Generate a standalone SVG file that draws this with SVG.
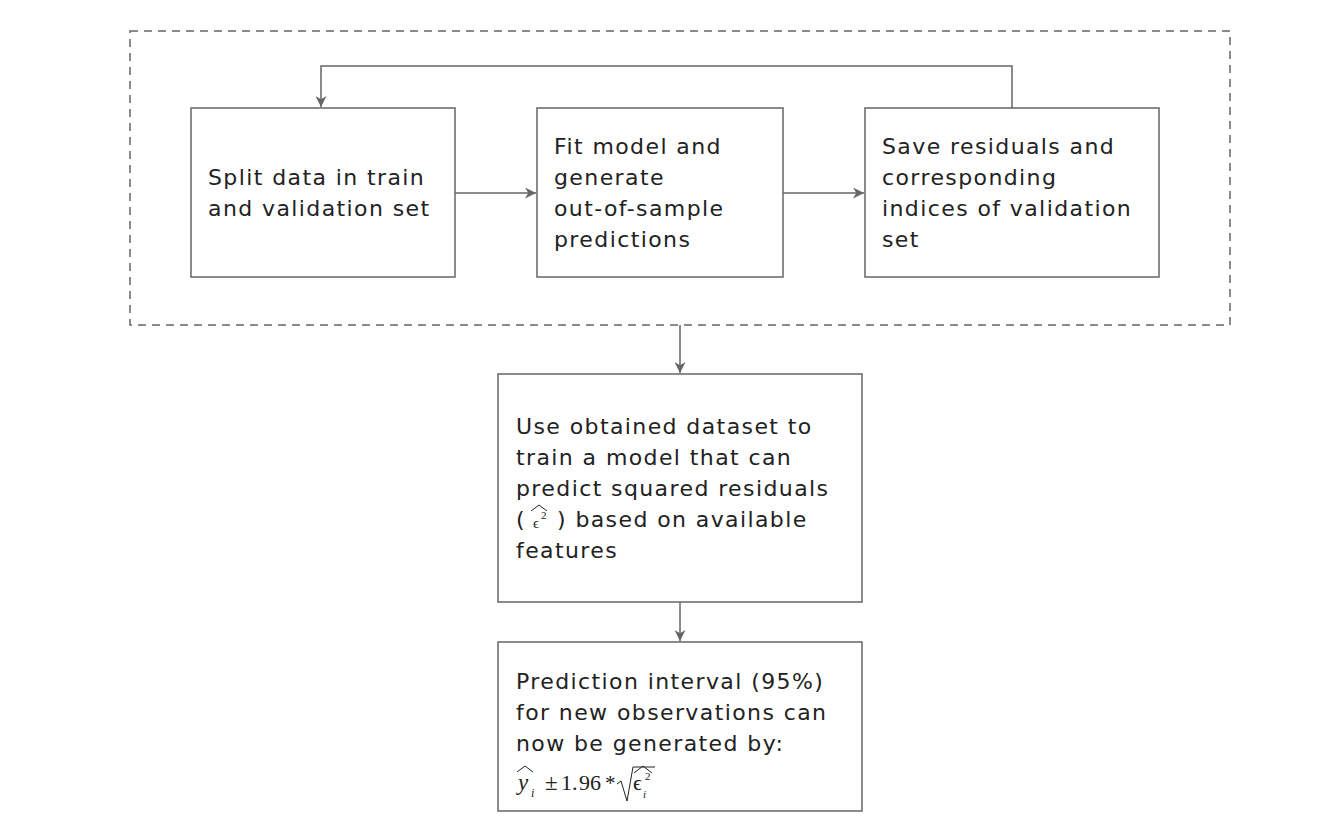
<svg xmlns="http://www.w3.org/2000/svg" width="1344" height="830" viewBox="0 0 1344 830">
<defs>
<style>
.box{fill:#fff;stroke:#666;stroke-width:1.5}
.t{font-family:"DejaVu Sans","Open Sans",sans-serif;font-size:22px;letter-spacing:1.4px;fill:#222}
.m{font-family:"Liberation Serif","DejaVu Serif",serif;fill:#222}
.c{fill:none;stroke:#666;stroke-width:1.5}
.hat{fill:none;stroke:#222;stroke-width:1}
</style>
<marker id="ah" viewBox="0 0 10 10" refX="10" refY="5" markerWidth="11" markerHeight="11" markerUnits="userSpaceOnUse" orient="auto">
<path d="M0,0 L10,5 L0,10 L3,5 Z" fill="#666"/>
</marker>
</defs>
<rect width="1344" height="830" fill="#fff"/>
<g id="group-frame">
<rect x="130" y="31" width="1100" height="294" fill="none" stroke="#666" stroke-width="1.5" stroke-dasharray="8,6"/>
</g>
<g id="connectors">
<line class="c" x1="455" y1="193" x2="536" y2="193" marker-end="url(#ah)"/>
<line class="c" x1="783" y1="193" x2="864" y2="193" marker-end="url(#ah)"/>
<polyline class="c" points="1012,108 1012,66 321,66 321,107" marker-end="url(#ah)"/>
<line class="c" x1="680" y1="325" x2="680" y2="373" marker-end="url(#ah)"/>
<line class="c" x1="680" y1="602" x2="680" y2="641" marker-end="url(#ah)"/>
</g>
<g id="node-split">
<rect class="box" x="191" y="108" width="264" height="169"/>
<text class="t" x="208" y="185">Split data in train</text>
<text class="t" x="208" y="216">and validation set</text>
</g>
<g id="node-fit">
<rect class="box" x="537" y="108" width="246" height="169"/>
<text class="t" x="554" y="154">Fit model and</text>
<text class="t" x="554" y="185">generate</text>
<text class="t" x="554" y="216">out-of-sample</text>
<text class="t" x="554" y="247">predictions</text>
</g>
<g id="node-save">
<rect class="box" x="865" y="108" width="294" height="169"/>
<text class="t" x="882" y="154">Save residuals and</text>
<text class="t" x="882" y="185">corresponding</text>
<text class="t" x="882" y="216">indices of validation</text>
<text class="t" x="882" y="247">set</text>
</g>
<g id="node-train">
<rect class="box" x="498" y="374" width="364" height="228"/>
<text class="t" x="516" y="434">Use obtained dataset to</text>
<text class="t" x="516" y="465">train a model that can</text>
<text class="t" x="516" y="496">predict squared residuals</text>
<text class="t" x="516" y="527">(</text>
<path class="hat" d="M531,511 L539,505 L547,511"/>
<text class="m" x="533" y="528" font-size="15">ϵ</text>
<text class="m" x="541" y="519" font-size="11">2</text>
<text class="t" x="557" y="527">) based on available</text>
<text class="t" x="516" y="558">features</text>
</g>
<g id="node-interval">
<rect class="box" x="498" y="642" width="364" height="169"/>
<text class="t" x="516" y="689">Prediction interval (95%)</text>
<text class="t" x="516" y="720">for new observations can</text>
<text class="t" x="516" y="751">now be generated by:</text>
<path class="hat" d="M517,772 L525,766 L533,772"/>
<text class="m" x="518" y="790" font-size="23" font-style="italic">y</text>
<text class="m" x="531" y="797" font-size="12" font-style="italic">i</text>
<text class="m" x="545" y="790" font-size="23">±</text>
<text class="m" x="561" y="790" font-size="22">1.</text>
<text class="m" x="579" y="790" font-size="22">96</text>
<text class="m" x="605" y="790" font-size="21">*</text>
<path class="hat" d="M617,784 L621,781 L627,801 L633,767 L655,767"/>
<path class="hat" d="M634,773 L643,766 L652,773"/>
<text class="m" x="633" y="790" font-size="22">ϵ</text>
<text class="m" x="645" y="780" font-size="11">2</text>
<text class="m" x="643" y="798" font-size="11" font-style="italic">i</text>
</g>
</svg>
